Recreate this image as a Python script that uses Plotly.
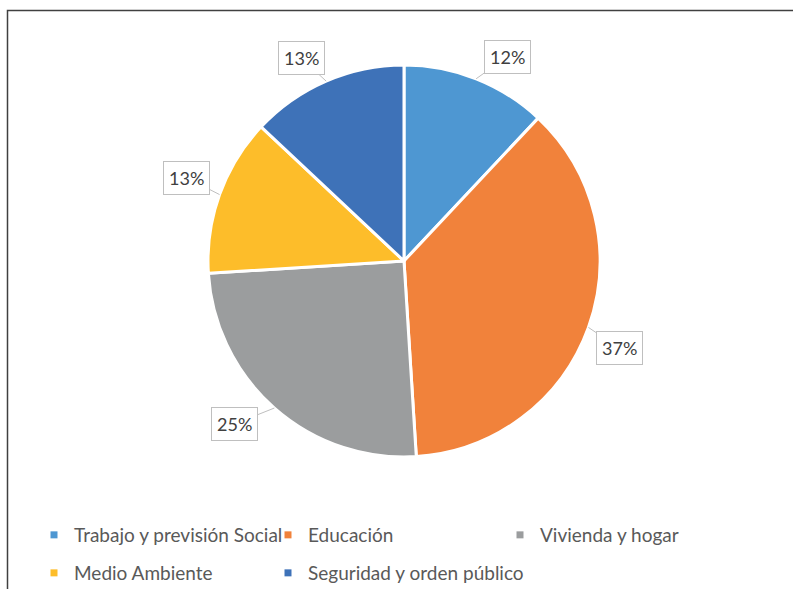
import math
import plotly.graph_objects as go

# Budget share by sector
categories = [
    "Trabajo y previsión Social",
    "Educación",
    "Vivienda y hogar",
    "Medio Ambiente",
    "Seguridad y orden público",
]
shares = [12, 37, 25, 13, 13]
colors = ["#4E97D2", "#F1823B", "#9B9D9E", "#FDBD2A", "#3E72B8"]

# Canvas and pie geometry (pixels)
W, H = 793, 589
cx, cy, R = 404, 261, 196

# Callout box offsets from the slice edge point (pixels)
label_offsets = [(31, -22), (31, 21), (-40, 16), (-33, -17), (-25, -23)]

# Legend grid: (row, column) of each category, column/row positions in px
legend_cells = [(0, 0), (0, 1), (0, 2), (1, 0), (1, 1)]
legend_col_x = [34, 268, 500]
legend_row_y = [535, 573]

font_family = "Lato"
text_color = "#595959"

fig = go.Figure()

fig.add_trace(go.Pie(
    labels=categories,
    values=shares,
    sort=False,
    direction="clockwise",
    rotation=0,
    textinfo="none",
    hoverinfo="label+percent",
    marker=dict(colors=colors, line=dict(color="white", width=3)),
    showlegend=False,
    domain=dict(x=[(cx - R) / W, (cx + R) / W],
                y=[1 - (cy + R) / H, 1 - (cy - R) / H]),
))

# One legend per entry so the entries sit on a fixed grid
legend_layouts = {}
for i, (row, col) in enumerate(legend_cells):
    key = "legend" if i == 0 else f"legend{i + 1}"
    fig.add_trace(go.Scatter(
        x=[None], y=[None], mode="markers", name=categories[i],
        marker=dict(symbol="square", size=7, color=colors[i]),
        legend=key, hoverinfo="skip",
    ))
    legend_layouts[key] = dict(
        x=legend_col_x[col] / W, y=1 - legend_row_y[row] / H,
        xanchor="left", yanchor="middle", orientation="h",
        font=dict(family=font_family, size=19, color=text_color),
        bgcolor="rgba(0,0,0,0)", itemclick=False, itemdoubleclick=False,
    )

# Percentage callouts pointing at each slice's mid-angle on the rim
total = sum(shares)
annotations = []
cum = 0
for v, (ox, oy) in zip(shares, label_offsets):
    mid = (cum + v / 2) / total * 2 * math.pi
    cum += v
    tx = cx + R * math.sin(mid)
    ty = cy - R * math.cos(mid)
    annotations.append(dict(
        x=tx / W, y=1 - ty / H, xref="paper", yref="paper",
        text=f"{round(100 * v / total)}%",
        showarrow=True, arrowhead=0, arrowwidth=1, arrowcolor="#BFBFBF",
        ax=ox, ay=oy, standoff=0,
        bordercolor="#BFBFBF", borderwidth=1, borderpad=5, bgcolor="white",
        font=dict(family=font_family, size=18, color="#404040"),
    ))

fig.update_layout(
    width=W, height=H,
    margin=dict(l=0, r=0, t=0, b=0, autoexpand=False),
    paper_bgcolor="white", plot_bgcolor="white",
    xaxis=dict(visible=False), yaxis=dict(visible=False),
    annotations=annotations,
    shapes=[dict(type="rect", xref="paper", yref="paper",
                 x0=7.5 / W, x1=1.05, y0=-0.05, y1=1 - 10.5 / H,
                 line=dict(color="#404040", width=1.5), layer="above")],
    **legend_layouts,
)

fig.write_html("out.html")
